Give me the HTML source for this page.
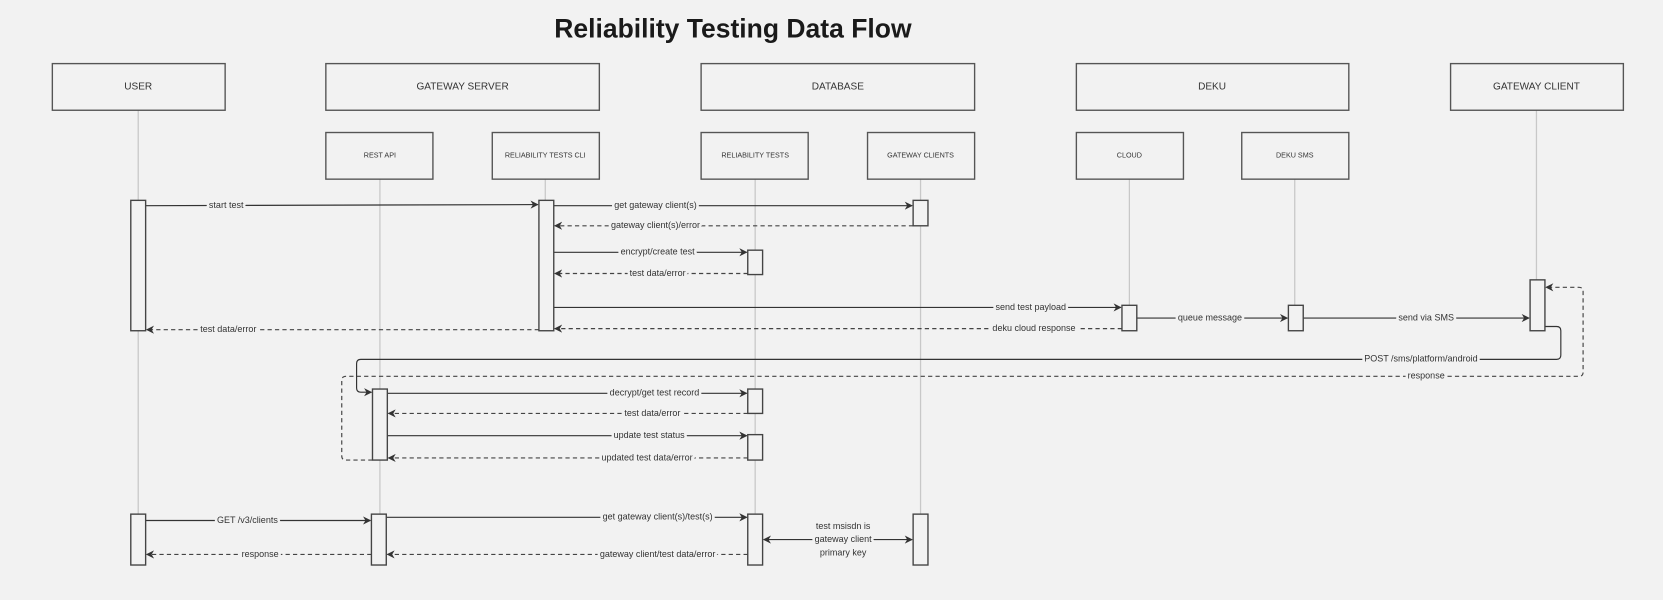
<!DOCTYPE html>
<html><head><meta charset="utf-8"><style>
html,body{margin:0;padding:0;background:#f2f2f2;}
svg{display:block;}
text{font-family:"Liberation Sans",sans-serif;fill:#333;}
.l{font-size:8.5px;text-anchor:middle;dominant-baseline:middle;paint-order:stroke;stroke:#f2f2f2;stroke-width:5px;stroke-linejoin:round;}
.box{fill:#f2f2f2;stroke:#555;stroke-width:1.3;}
.act{fill:#f2f2f2;stroke:#444;stroke-width:1.3;}
.life{stroke:#c8c8c8;stroke-width:1.2;}
.s{stroke:#333;stroke-width:1.1;fill:none;}
.d{stroke:#444;stroke-width:1.1;fill:none;stroke-dasharray:4 3;}
</style></head><body>
<svg width="1663" height="600" viewBox="0 0 1568 566" xmlns="http://www.w3.org/2000/svg">
<defs>
<marker id="a" viewBox="0 0 10 10" refX="9" refY="5" markerWidth="7" markerHeight="7" orient="auto-start-reverse"><path d="M0,0 L10,5 L0,10 L3,5 z" fill="#333"/></marker>
</defs>
<rect width="1568" height="566" fill="#f2f2f2"/>
<text x="691" y="29" font-size="25" font-weight="bold" text-anchor="middle" dominant-baseline="middle" style="fill:#1a1a1a">Reliability Testing Data Flow</text>

<!-- lifelines -->
<g class="life">
<line x1="130" y1="104" x2="130" y2="533"/>
<line x1="358" y1="169" x2="358" y2="533"/>
<line x1="514" y1="169" x2="514" y2="312"/>
<line x1="712" y1="169" x2="712" y2="533"/>
<line x1="868" y1="169" x2="868" y2="533"/>
<line x1="1065" y1="169" x2="1065" y2="312"/>
<line x1="1221" y1="169" x2="1221" y2="312"/>
<line x1="1449" y1="104" x2="1449" y2="312"/>
</g>

<!-- header boxes -->
<rect class="box" x="49" y="60" width="163" height="44"/>
<rect class="box" x="307" y="60" width="258" height="44"/>
<rect class="box" x="661" y="60" width="258" height="44"/>
<rect class="box" x="1015" y="60" width="257" height="44"/>
<rect class="box" x="1368" y="60" width="163" height="44"/>
<g font-size="9.5" text-anchor="middle" dominant-baseline="middle">
<text x="130" y="82">USER</text>
<text x="436" y="82">GATEWAY SERVER</text>
<text x="790" y="82">DATABASE</text>
<text x="1143" y="82">DEKU</text>
<text x="1449" y="82">GATEWAY CLIENT</text>
</g>
<rect class="box" x="307" y="125" width="101" height="44"/>
<rect class="box" x="464" y="125" width="101" height="44"/>
<rect class="box" x="661" y="125" width="101" height="44"/>
<rect class="box" x="818" y="125" width="101" height="44"/>
<rect class="box" x="1015" y="125" width="101" height="44"/>
<rect class="box" x="1171" y="125" width="101" height="44"/>
<g font-size="6.8" text-anchor="middle" dominant-baseline="middle">
<text x="358" y="147">REST API</text>
<text x="514" y="147">RELIABILITY TESTS CLI</text>
<text x="712" y="147">RELIABILITY TESTS</text>
<text x="868" y="147">GATEWAY CLIENTS</text>
<text x="1065" y="147">CLOUD</text>
<text x="1221" y="147">DEKU SMS</text>
</g>

<!-- loop connectors -->
<path class="s" d="M1457,308 L1468,308 Q1472,308 1472,312 L1472,335 Q1472,339 1468,339 L340,339 Q336,339 336,343 L336,366 Q336,370 340,370 L350,370" marker-end="url(#a)"/>
<path class="d" d="M351,434 L326,434 Q322,434 322,430 L322,359 Q322,355 326,355 L1489,355 Q1493,355 1493,351 L1493,275 Q1493,271 1489,271 L1458,271" marker-end="url(#a)"/>

<!-- messages -->
<line class="s" x1="137" y1="194" x2="507" y2="193" marker-end="url(#a)"/>
<line class="s" x1="522" y1="194" x2="860" y2="194" marker-end="url(#a)"/>
<line class="d" x1="861" y1="213" x2="523" y2="213" marker-end="url(#a)"/>
<line class="s" x1="522" y1="238" x2="704" y2="238" marker-end="url(#a)"/>
<line class="d" x1="705" y1="258" x2="523" y2="258" marker-end="url(#a)"/>
<line class="s" x1="522" y1="290" x2="1057" y2="290" marker-end="url(#a)"/>
<line class="d" x1="1058" y1="310" x2="523" y2="310" marker-end="url(#a)"/>
<line class="d" x1="508" y1="311" x2="138" y2="311" marker-end="url(#a)"/>
<line class="s" x1="1072" y1="300" x2="1214" y2="300" marker-end="url(#a)"/>
<line class="s" x1="1229" y1="300" x2="1442" y2="300" marker-end="url(#a)"/>
<line class="s" x1="365" y1="371" x2="704" y2="371" marker-end="url(#a)"/>
<line class="d" x1="705" y1="390" x2="366" y2="390" marker-end="url(#a)"/>
<line class="s" x1="365" y1="411" x2="704" y2="411" marker-end="url(#a)"/>
<line class="d" x1="705" y1="432" x2="366" y2="432" marker-end="url(#a)"/>
<line class="s" x1="137" y1="491" x2="349" y2="491" marker-end="url(#a)"/>
<line class="d" x1="350" y1="523" x2="138" y2="523" marker-end="url(#a)"/>
<line class="s" x1="364" y1="488" x2="704" y2="488" marker-end="url(#a)"/>
<line class="d" x1="705" y1="523" x2="365" y2="523" marker-end="url(#a)"/>
<line class="s" x1="720" y1="509" x2="860" y2="509" marker-start="url(#a)" marker-end="url(#a)"/>

<!-- activations -->
<rect class="act" x="123" y="189" width="14" height="123"/>
<rect class="act" x="508" y="189" width="14" height="123"/>
<rect class="act" x="861" y="189" width="14" height="24"/>
<rect class="act" x="705" y="236" width="14" height="23"/>
<rect class="act" x="1058" y="288" width="14" height="24"/>
<rect class="act" x="1215" y="288" width="14" height="24"/>
<rect class="act" x="1443" y="264" width="14" height="48"/>
<rect class="act" x="351" y="367" width="14" height="67"/>
<rect class="act" x="705" y="367" width="14" height="23"/>
<rect class="act" x="705" y="410" width="14" height="24"/>
<rect class="act" x="123" y="485" width="14" height="48"/>
<rect class="act" x="350" y="485" width="14" height="48"/>
<rect class="act" x="705" y="485" width="14" height="48"/>
<rect class="act" x="861" y="485" width="14" height="48"/>

<!-- labels -->
<text class="l" x="213" y="194">start test</text>
<text class="l" x="618" y="194">get gateway client(s)</text>
<text class="l" x="618" y="213">gateway client(s)/error</text>
<text class="l" x="620" y="238">encrypt/create test</text>
<text class="l" x="620" y="258">test data/error</text>
<text class="l" x="972" y="290">send test payload</text>
<text class="l" x="975" y="310">deku cloud response</text>
<text class="l" x="215" y="311">test data/error</text>
<text class="l" x="1141" y="300">queue message</text>
<text class="l" x="1345" y="300">send via SMS</text>
<text class="l" x="1340" y="339">POST /sms/platform/android</text>
<text class="l" x="1345" y="355">response</text>
<text class="l" x="617" y="371">decrypt/get test record</text>
<text class="l" x="615" y="390">test data/error</text>
<text class="l" x="612" y="411">update test status</text>
<text class="l" x="610" y="432">updated test data/error</text>
<text class="l" x="233" y="491">GET /v3/clients</text>
<text class="l" x="245" y="523">response</text>
<text class="l" x="620" y="488">get gateway client(s)/test(s)</text>
<text class="l" x="620" y="523">gateway client/test data/error</text>
<text class="l" x="795" y="497">test msisdn is</text>
<text class="l" x="795" y="509">gateway client</text>
<text class="l" x="795" y="522">primary key</text>
</svg>
</body></html>
